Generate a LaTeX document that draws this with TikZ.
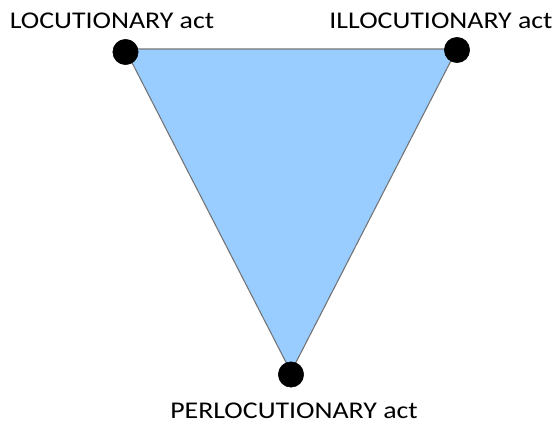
\documentclass[tikz,border=0pt]{standalone}
\usepackage{fontspec}
\setmainfont{Carlito}
\usetikzlibrary{positioning}
\definecolor{blue0}{HTML}{99CCFF}
\tikzset{
  corner/.style = {draw, circle, fill=black, minimum size=19pt, inner sep=0pt},
  actlbl/.style = {font=\fontsize{18}{21}\selectfont, inner sep=0pt, xscale=1.16},
  side/.style   = {draw=black!55, line width=0.8pt, fill=blue0},
}

\begin{document}
\begin{tikzpicture}[x=0.75pt, y=-0.75pt]
  \useasboundingbox (0,0) rectangle (558,425);
  \coordinate (loc) at (125,49);
  \coordinate (ill) at (457,49);
  \coordinate (per) at (291,372);
  \draw[side] (loc) -- (ill) -- (per) -- cycle;
  \node[corner] (locdot) at (125.5,52) {};
  \node[corner] (illdot) at (457,50) {};
  \node[corner] (perdot) at (291,374.5) {};
  \node[actlbl] (loctxt) at (112,21) {LOCUTIONARY act};
  \node[actlbl] (illtxt) at (441,21) {ILLOCUTIONARY act};
  \node[actlbl] (pertxt) at (294,411) {PERLOCUTIONARY act};
\end{tikzpicture}
\end{document}
